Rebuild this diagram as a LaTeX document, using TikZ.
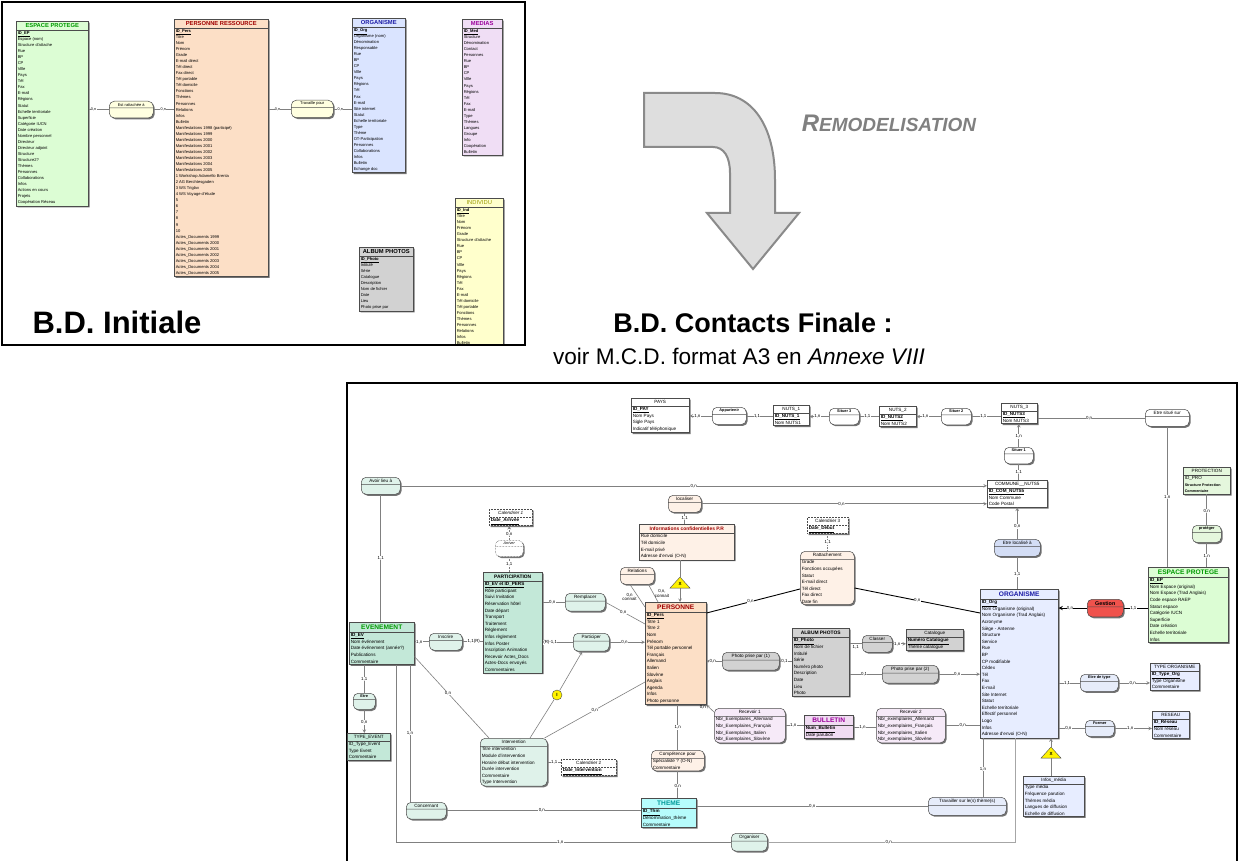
\documentclass[tikz,border=0pt]{standalone}
\usepackage{fontspec}
\setmainfont{Liberation Sans}
\usepackage{xcolor}
\usepackage{tikz}
\usetikzlibrary{shapes.multipart,shapes.geometric,shadows}
\definecolor{mcdMint}{HTML}{C3E8D8}
\definecolor{mcdMintLight}{HTML}{DFF2EA}
\definecolor{mcdPeach}{HTML}{FCDFC6}
\definecolor{mcdPeachLight}{HTML}{FEF1E7}
\definecolor{mcdBlue}{HTML}{E7EDFF}
\definecolor{mcdBlueRel}{HTML}{D3DDF5}
\definecolor{mcdBlueLight}{HTML}{E6ECFA}
\definecolor{mcdGray}{HTML}{D2D2D2}
\definecolor{mcdLilac}{HTML}{F0DCF2}
\definecolor{mcdLilacLight}{HTML}{F6EAF8}
\definecolor{mcdCyan}{HTML}{B6FCFC}
\definecolor{mcdLeaf}{HTML}{DCFDD4}
\definecolor{mcdLeafLight}{HTML}{E5F7DD}
\definecolor{mcdRed}{HTML}{F0524C}
\definecolor{mcdLemon}{HTML}{FFFFCC}
\definecolor{mcdOldBlue}{HTML}{DAE4FF}
\definecolor{mcdOldLilac}{HTML}{F0DEF5}
\definecolor{hdGreen}{HTML}{009A00}
\definecolor{hdRed}{HTML}{A00000}
\definecolor{hdBlue}{HTML}{1C1CA6}
\definecolor{hdPurple}{HTML}{9A009A}
\definecolor{hdOlive}{HTML}{999900}
\definecolor{hdTeal}{HTML}{009999}
\definecolor{arrowFill}{HTML}{DEDEDE}
\definecolor{arrowEdge}{HTML}{8A8A8A}
\definecolor{remodGray}{HTML}{808080}
\newcommand{\idkey}[1]{\underline{\textbf{#1}}}
\newcommand{\hdbig}{\bfseries\fontsize{6.6}{7.6}\selectfont\rule[-2pt]{0pt}{7.5pt}}
\newcommand{\hdmid}{\bfseries\fontsize{4.9}{6}\selectfont\rule[-1.8pt]{0pt}{6.5pt}}
\newcommand{\hdsmall}{\fontsize{4.6}{5.6}\selectfont\rule[-1.5pt]{0pt}{5.5pt}}
\newcommand{\hdold}{\bfseries\fontsize{5.8}{7}\selectfont\rule[-1.8pt]{0pt}{6.6pt}}
\tikzset{
  ent/.style={rectangle split, rectangle split parts=2, anchor=north west,
    draw=black!70, line width=0.5pt, align=left,
    rectangle split part align={center,left}, inner xsep=1.5pt, inner ysep=1pt,
    font=\fontsize{4.6}{6.6}\selectfont,
    drop shadow={shadow xshift=1.4pt, shadow yshift=-1.4pt, fill=black!55, opacity=1}},
  ent0/.style={ent, font=\fontsize{4.1}{6.05}\selectfont},
  rel/.style={ent, rounded corners=5pt, align=center,
    rectangle split part align={center,center},
    rectangle split empty part height=3pt, rectangle split empty part depth=1pt,
    inner ysep=1.6pt},
  relb/.style={rel, font=\bfseries\fontsize{3.9}{5}\selectfont},
  relatt/.style={ent, rounded corners=5pt},
  cal/.style={ent, densely dotted, fill=white},
  card/.style={fill=white, inner sep=0.3pt, align=center, font=\fontsize{4.4}{4.8}\selectfont},
  card0/.style={card, font=\fontsize{3.8}{4.5}\selectfont},
  lnk/.style={draw=black!50, line width=0.6pt},
  arr/.style={lnk, -stealth},
  heavy/.style={draw=black, line width=0.9pt},
  xtri/.style={isosceles triangle, shape border rotate=90, isosceles triangle stretches,
    minimum width=20pt, minimum height=11pt, inner sep=0pt, fill=yellow, draw=black!70,
    line width=0.4pt, font=\bfseries\fontsize{4.5}{5}\selectfont},
  icirc/.style={circle, minimum size=10pt, inner sep=0pt, fill=yellow, draw=black!70,
    line width=0.4pt, font=\bfseries\fontsize{4.5}{5}\selectfont},
  bigtitle/.style={font=\bfseries\fontsize{31}{36}\selectfont},
}
\begin{document}
\begin{tikzpicture}[x=1pt,y=-1pt]
  \useasboundingbox (0,0) rectangle (1242,861);
  \fill[white] (0,0) rectangle (1242,861);

  \begin{scope}
    \clip (3,3) rectangle (524,344);
    \node[ent0, fill=mcdLeaf, minimum width=72pt] (esp0) at (16,21)
      {{\hdold\color{hdGreen}ESPACE PROTEGE}\nodepart{two}\idkey{ID\_EP}\\Espace (nom)\\Structure d'attache\\Rue\\BP\\CP\\Ville\\Pays\\Tél\\Fax\\E-mail\\Régions\\Statut\\Echelle territoriale\\Superficie\\Catégorie IUCN\\Date création\\Nombre personnel\\Directeur\\Directeur adjoint\\Structure\\Structure2?\\Thèmes\\Personnes\\Collaborations\\Infos\\Actions en cours\\Projets\\Coopération Réseau};
    \node[ent0, fill=mcdPeach, minimum width=94pt] (persres) at (174,19)
      {{\hdold\color{hdRed}PERSONNE RESSOURCE}\nodepart{two}\idkey{ID\_Pers}\\Titre\\Nom\\Prénom\\Grade\\E-mail direct\\Tél direct\\Fax direct\\Tél portable\\Tél domicile\\Fonctions\\Thèmes\\Personnes\\Relations\\Infos\\Bulletin\\Manifestations 1998 (participé)\\Manifestations 1999\\Manifestations 2000\\Manifestations 2001\\Manifestations 2002\\Manifestations 2003\\Manifestations 2004\\Manifestations 2005\\1 Workshop Adamello Brenta\\2 AG Berchtesgaden\\3 WS Triglav\\4 WS Voyage d'étude\\5\\6\\7\\8\\9\\10\\Actes\_Documents 1999\\Actes\_Documents 2000\\Actes\_Documents 2001\\Actes\_Documents 2002\\Actes\_Documents 2003\\Actes\_Documents 2004\\Actes\_Documents 2005};
    \node[ent0, fill=mcdOldBlue, minimum width=53pt] (org0) at (352,18)
      {{\hdold\color{hdBlue}ORGANISME}\nodepart{two}\idkey{ID\_Org}\\Organisme (nom)\\Dénomination\\Responsable\\Rue\\BP\\CP\\Ville\\Pays\\Régions\\Tél\\Fax\\E-mail\\Site internet\\Statut\\Echelle territoriale\\Type\\Thème\\OT-Participation\\Personnes\\Collaborations\\Infos\\Bulletin\\Echange doc};
    \node[ent0, fill=mcdOldLilac, minimum width=40pt] (medias) at (462,19)
      {{\hdold\color{hdPurple}MEDIAS}\nodepart{two}\idkey{ID\_Med}\\Structure\\Dénomination\\Contact\\Personnes\\Rue\\BP\\CP\\Ville\\Pays\\Régions\\Tél\\Fax\\E-mail\\Type\\Thèmes\\Langues\\Groupe\\Info\\Coopération\\Bulletin};
    \node[ent0, fill=mcdLemon, minimum width=48pt] (individu) at (455,198)
      {{\fontsize{5.8}{7}\selectfont\rule[-1.8pt]{0pt}{6.6pt}\color{hdOlive}INDIVIDU}\nodepart{two}\idkey{ID\_Ind}\\Titre\\Nom\\Prénom\\Grade\\Structure d'attache\\Rue\\BP\\CP\\Ville\\Pays\\Régions\\Tél\\Fax\\E-mail\\Tél domicile\\Tél portable\\Fonctions\\Thèmes\\Personnes\\Relations\\Infos\\Bulletin};
    \node[ent0, fill=mcdGray, minimum width=54pt] (album0) at (359,247)
      {{\hdold ALBUM PHOTOS}\nodepart{two}\idkey{ID\_Photo}\\Intitulé\\Série\\Catalogue\\Description\\Nom de fichier\\Date\\Lieu\\Photo prise par};
    \node[rel, fill=mcdLemon!60, minimum width=44pt, font=\fontsize{4}{5}\selectfont] (estratt) at (109,101) {Est rattachée à\nodepart{two}};
    \node[rel, fill=mcdLemon!60, minimum width=42pt, font=\fontsize{4}{5}\selectfont] (travaille) at (291,100) {Travaille pour\nodepart{two}};
  \end{scope}
  \draw[lnk] (estratt.west -| esp0.east) -- node[card0, pos=0.25] {0,n} (estratt.west);
  \draw[lnk] (estratt.east) -- node[card0, pos=0.48] {0,n} (estratt.east -| persres.west);
  \draw[lnk] (travaille.west -| persres.east) -- node[card0, pos=0.4] {0,n} (travaille.west);
  \draw[lnk] (travaille.east) -- node[card0, pos=0.37] {0,n} (travaille.east -| org0.west);
  \draw[line width=1.8pt] (2,2) rectangle (525,345);
  \node[bigtitle] (initiale) at (117,322) {B.D. Initiale};

  \draw[draw=arrowEdge, fill=arrowFill, line width=2pt]
    (644,93) -- (715,93) .. controls (752,93) and (775,125) .. (775,180) -- (775,213)
    -- (799,213) -- (753,269) -- (707,213) -- (730,213) -- (730,173)
    .. controls (730,157) and (724,147) .. (713,147) -- (644,147) -- cycle;
  \node[text=remodGray, font=\bfseries\itshape] (remod) at (889,123)
    {{\fontsize{24}{28}\selectfont R}{\fontsize{19}{28}\selectfont EMODELISATION}};
  \node[bigtitle, font=\bfseries\fontsize{27}{32}\selectfont] (finale) at (753,323) {B.D. Contacts Finale :};
  \node[font=\fontsize{22.6}{26}\selectfont] (voir) at (739,356) {voir M.C.D. format A3 en \textit{Annexe VIII}};

  \draw[line width=1.2pt] (347,383) rectangle (1237,864);

  \node[ent, fill=white, minimum width=58pt] (pays) at (631,398)
    {{\hdsmall PAYS}\nodepart{two}\idkey{ID\_PAY}\\Nom Pays\\Sigle Pays\\Indicatif téléphonique};
  \node[ent, fill=white, minimum width=36pt] (nuts1) at (773,405)
    {{\hdsmall NUTS\_1}\nodepart{two}\idkey{ID\_NUTS\_1}\\Nom NUTS1};
  \node[ent, fill=white, minimum width=37pt] (nuts2) at (879,406)
    {{\hdsmall NUTS\_2}\nodepart{two}\idkey{ID\_NUTS2}\\Nom NUTS2};
  \node[ent, fill=white, minimum width=36pt] (nuts3) at (1001,403)
    {{\hdsmall NUTS\_3}\nodepart{two}\idkey{ID\_NUTS3}\\Nom NUTS3};
  \node[ent, fill=white, minimum width=60pt] (commune) at (987,480)
    {{\hdsmall COMMUNE\_\_NUTS5}\nodepart{two}\idkey{ID\_COM\_NUTS5}\\Nom Commune\\Code Postal};
  \node[ent, fill=mcdLeafLight, minimum width=47pt] (protection) at (1183,467)
    {{\hdsmall PROTECTION}\nodepart{two}ID\_PRO\\{\bfseries\fontsize{3.7}{6.6}\selectfont Structure Protection}\\{\bfseries\fontsize{3.7}{6.6}\selectfont Commentaire}};
  \node[ent, fill=mcdLeaf, minimum width=80pt] (espfin) at (1148,567)
    {{\hdbig\color{hdGreen}ESPACE PROTEGE}\nodepart{two}\idkey{ID\_EP}\\Nom Espace (original)\\Nom Espace (Trad Anglais)\\Code espace RAEP\\Statut espace\\Catégorie IUCN\\Superficie\\Date création\\Echelle territoriale\\Infos};
  \node[ent, fill=mcdBlue, minimum width=78pt] (org) at (980,589)
    {{\hdbig\color{hdBlue}ORGANISME}\nodepart{two}\idkey{ID\_Org}\\Nom Organisme (original)\\Nom Organisme (Trad Anglais)\\Acronyme\\Siège - Antenne\\Structure\\Service\\Rue\\BP\\CP modifiable\\Cédex\\Tél\\Fax\\E-mail\\Site Internet\\Statut\\Echelle territoriale\\Effectif personnel\\Logo\\Infos\\Adresse d'envoi (O-N)};
  \node[ent, fill=mcdBlue, minimum width=49pt] (typeorg) at (1150,663)
    {{\hdsmall TYPE ORGANISME}\nodepart{two}\idkey{ID\_Type\_Org}\\Type Organisme\\Commentaire};
  \node[ent, fill=mcdBlue, minimum width=37pt] (reseau) at (1152,711)
    {{\hdsmall RESEAU}\nodepart{two}\idkey{ID\_Réseau}\\Nom réseau\\Commentaire};
  \node[ent, fill=mcdBlue, minimum width=61pt] (infmedia) at (1023,776)
    {{\hdsmall Infos\_média}\nodepart{two}Type média\\Fréquence parution\\Thèmes média\\Langues de diffusion\\Echelle de diffusion};
  \node[ent, fill=mcdGray, minimum width=57pt] (album) at (792,628)
    {{\hdmid ALBUM PHOTOS}\nodepart{two}\idkey{ID\_Photo}\\Nom de fichier\\Intitulé\\Série\\Numéro photo\\Description\\Date\\Lieu\\Photo};
  \node[ent, fill=mcdGray, minimum width=57pt] (catalogue) at (906,629)
    {{\hdsmall Catalogue}\nodepart{two}\idkey{Numéro Catalogue}\\Thème catalogue};
  \node[ent, fill=mcdLilac, minimum width=49pt] (bulletin) at (804,715)
    {{\hdbig\color{hdPurple}BULLETIN}\nodepart{two}\idkey{Num\_Bulletin}\\Date parution};
  \node[ent, fill=mcdCyan, minimum width=55pt] (theme) at (641,798)
    {{\hdbig\color{hdTeal}THEME}\nodepart{two}\idkey{ID\_Thm}\\Dénomination\_thème\\Commentaire};
  \node[ent, fill=mcdPeach, minimum width=61pt] (pers) at (645,602)
    {{\hdbig\color{hdRed}PERSONNE}\nodepart{two}\idkey{ID\_Pers}\\Titre 1\\Titre 2\\Nom\\Prénom\\Tél portable personnel\\Français\\Allemand\\Italien\\Slovène\\Anglais\\Agenda\\Infos\\Photo personne};
  \node[ent, fill=mcdPeachLight, minimum width=95pt] (infconf) at (639,524)
    {{\hdmid\color{hdRed}Informations confidentielles P.R}\nodepart{two}Rue domicile\\Tél domicile\\E-mail privé\\Adresse d'envoi (O-N)};
  \node[ent, fill=mcdMint, minimum width=59pt] (partic) at (483,572)
    {{\hdmid PARTICIPATION}\nodepart{two}\idkey{ID\_EV et ID\_PERS}\\Rôle participant\\Suivi Invitation\\Réservation hôtel\\Date départ\\Transport\\Traitement\\Règlement\\Infos règlement\\Infos Poster\\Inscription Animation\\Recevoir Actes\_Docs\\Actes-Docs envoyés\\Commentaires};
  \node[ent, fill=mcdMint, minimum width=65pt] (even) at (349,622)
    {{\hdbig\color{hdGreen}EVENEMENT}\nodepart{two}\idkey{ID\_EV}\\Nom événement\\Date événement (année?)\\Publications\\Commentaire};
  \node[ent, fill=mcdMint, minimum width=43pt] (typeev) at (347,733)
    {{\hdsmall TYPE\_EVENT}\nodepart{two}ID\_Type\_Event\\Type Event\\Commentaire};
  \node[cal, minimum width=43pt] (cal1) at (489,509)
    {{\hdsmall\itshape Calendrier 1}\nodepart{two}\idkey{Date\_Arrivée}};
  \node[cal, minimum width=55pt] (cal2) at (561,759)
    {{\hdsmall Calendrier 2}\nodepart{two}\idkey{Date\_Intervention}};
  \node[cal, minimum width=41pt] (cal3) at (807,517)
    {{\hdsmall Calendrier 3}\nodepart{two}\idkey{Date\_Début}};

  \node[relb, fill=white, minimum width=34pt] (appartenir) at (712,407) {Appartenir\nodepart{two}};
  \node[relb, fill=white, minimum width=30pt] (situer3) at (829,408) {Situer 3\nodepart{two}};
  \node[relb, fill=white, minimum width=30pt] (situer2) at (941,408) {Situer 2\nodepart{two}};
  \node[relb, fill=white, minimum width=29pt] (situer1) at (1004,447) {Situer 1\nodepart{two}};
  \node[rel, fill=white, minimum width=44pt] (etresitue) at (1145,409) {Etre situé sur\nodepart{two}};
  \node[rel, fill=mcdBlueRel, minimum width=46pt] (localise) at (994,539) {Etre localisé à\nodepart{two}};
  \node[relb, fill=mcdLeafLight, minimum width=29pt] (proteger) at (1192,525) {protéger\nodepart{two}};
  \node[rel, fill=mcdRed, minimum width=36pt, font=\bfseries\fontsize{5.4}{6}\selectfont] (gestion) at (1087,599) {Gestion\nodepart{two}};
  \node[relb, fill=mcdBlueLight, minimum width=38pt] (etretype) at (1080,674) {Etre de type\nodepart{two}};
  \node[relb, fill=mcdBlueLight, minimum width=29pt] (former) at (1085,720) {Former\nodepart{two}};
  \node[rel, fill=mcdBlueLight, minimum width=78pt] (travailler) at (928,797) {Travailler sur le(s) thème(s)\nodepart{two}};
  \node[rel, fill=mcdMintLight, minimum width=36pt] (organiser) at (731,833) {Organiser\nodepart{two}};
  \node[rel, fill=mcdMintLight, minimum width=40pt] (concernant) at (406,802) {Concernant\nodepart{two}};
  \node[relb, fill=mcdMintLight, minimum width=22pt] (etre) at (353,693) {Etre\nodepart{two}};
  \node[rel, fill=mcdMintLight, minimum width=33pt] (inscrire) at (429,633) {Inscrire\nodepart{two}};
  \node[rel, fill=mcdMintLight, minimum width=36pt] (participer) at (573,633) {Participer\nodepart{two}};
  \node[rel, fill=mcdMintLight, minimum width=40pt] (remplacer) at (565,593) {Remplacer\nodepart{two}};
  \node[rel, fill=mcdMintLight, minimum width=39pt] (avoirlieu) at (361,477) {Avoir lieu à\nodepart{two}};
  \node[rel, fill=white, densely dotted, minimum width=28pt, font=\itshape\fontsize{3.8}{5}\selectfont] (arriver) at (495,540) {Arriver\nodepart{two}};
  \node[rel, fill=mcdPeachLight, minimum width=33pt] (localiser) at (668,495) {localiser\nodepart{two}};
  \node[rel, fill=mcdPeachLight, minimum width=34pt] (relations) at (620,567) {Relations\nodepart{two}};
  \node[rel, fill=mcdGray, minimum width=57pt] (photo1) at (722,652) {Photo prise par (1)\nodepart{two}};
  \node[rel, fill=mcdGray, minimum width=56pt] (photo2) at (882,665) {Photo prise par (2)\nodepart{two}};
  \node[rel, fill=mcdGray, minimum width=30pt] (classer) at (862,635) {Classer\nodepart{two}};

  \node[relatt, fill=mcdPeachLight, minimum width=54pt] (rattach) at (800,551)
    {{\hdsmall Rattachement}\nodepart{two}Grade\\Fonctions occupées\\Statut\\E-mail direct\\Tél direct\\Fax direct\\Date fin};
  \node[relatt, fill=mcdLilacLight, minimum width=71pt] (recev1) at (714,708)
    {{\hdsmall Recevoir 1}\nodepart{two}Nbr\_Exemplaires\_Allemand\\Nbr\_Exemplaires\_Français\\Nbr\_Exemplaires\_Italien\\Nbr\_Exemplaires\_Slovène};
  \node[relatt, fill=mcdLilacLight, minimum width=69pt] (recev2) at (876,708)
    {{\hdsmall Recevoir 2}\nodepart{two}Nbr\_exemplaires\_Allemand\\Nbr\_exemplaires\_Français\\Nbr\_exemplaires\_Italien\\Nbr\_exemplaires\_Slovène};
  \node[relatt, fill=mcdPeachLight, minimum width=53pt] (competence) at (651,750)
    {{\hdsmall Compétence pour}\nodepart{two}Spécialiste ? (O-N)\\Commentaire};
  \node[relatt, fill=mcdMintLight, minimum width=67pt] (interv) at (480,738)
    {{\hdsmall Intervention}\nodepart{two}Titre intervention\\Module d'intervention\\Horaire début intervention\\Durée intervention\\Commentaire\\Type Intervention};

  \node[xtri] (tri1) at (680,584) {X};
  \node[xtri] (tri2) at (1051,754) {X};
  \node[icirc] (circI) at (557,695) {I};

  \coordinate (evConc) at ([xshift=61pt]even.south west);
  \coordinate (evOrg) at ([xshift=47pt]even.south west);
  \coordinate (orgTrav) at ([xshift=3pt]org.south west);
  \coordinate (orgOrg) at ([xshift=35pt]org.south west);

  \draw[arr] (appartenir.west) -- node[card, pos=0.65] {1,n} (appartenir.west -| pays.east);
  \draw[lnk] (appartenir.east) -- node[card, pos=0.4] {1,1} (appartenir.east -| nuts1.west);
  \draw[arr] (situer3.west) -- node[card, pos=0.6] {1,n} (situer3.west -| nuts1.east);
  \draw[lnk] (situer3.east) -- node[card, pos=0.4] {1,1} (situer3.east -| nuts2.west);
  \draw[arr] (situer2.west) -- node[card, pos=0.64] {1,n} (situer2.west -| nuts2.east);
  \draw[lnk] (situer2.east) -- node[card, pos=0.4] {1,1} (situer2.east -| nuts3.west);
  \draw[lnk] (etresitue.west -| nuts3.east) -- node[card, pos=0.48] {0,n} (etresitue.west);
  \draw[lnk] (etresitue.south) -- node[card, pos=0.5] {1,n} (etresitue.south |- espfin.north);
  \draw[arr] (situer1.north) -- node[card, pos=0.45] {1,n} (situer1.north |- nuts3.south);
  \draw[lnk] (situer1.south) -- node[card, pos=0.5] {1,1} (situer1.south |- commune.north);
  \draw[arr] (avoirlieu.east) -- node[card, pos=0.5] {0,n} (avoirlieu.east -| commune.west);
  \draw[lnk] (avoirlieu.south) -- node[card, pos=0.5] {1,1} (avoirlieu.south |- even.north);
  \draw[arr] (localiser.east) -- node[card, pos=0.49] {0,n} (localiser.east -| commune.west);
  \draw[lnk] (localiser.south) -- node[card, pos=0.5] {1,1} (localiser.south |- infconf.north);
  \draw[lnk] (tri1.apex |- infconf.south) -- (tri1.apex);
  \draw[arr] (tri1.south) -- (tri1.south |- pers.north);
  \draw[lnk] ([xshift=10pt]relations.south west) -- node[card, pos=0.55, left=1pt, fill=none] {0,n\\connait} ([yshift=-5pt]pers.north west);
  \draw[lnk] ([xshift=-6pt]relations.south east) -- node[card, pos=0.5, right=1pt, fill=none] {0,n,\\connait} ([xshift=13pt]pers.north west);
  \draw[lnk] (remplacer.west -| partic.east) -- node[card, pos=0.43] {0,n} (remplacer.west);
  \draw[lnk] (remplacer.east) -- node[card, pos=0.45] {0,n} ([yshift=-22pt]pers.north west);
  \draw[lnk] (participer.west) -- node[card, pos=0.75] {(R)-1,1} (participer.west -| partic.east);
  \draw[arr] (participer.east) -- node[card, pos=0.42] {0,n} (participer.east -| pers.west);
  \draw[lnk] (inscrire.west) -- node[card, pos=0.67] {1,n} (inscrire.west -| even.east);
  \draw[lnk] (inscrire.east) -- node[card, pos=0.55] {1,1(R)} (inscrire.east -| partic.west);
  \draw[lnk, densely dotted] (arriver.south) -- node[card, pos=0.5] {1,1} (arriver.south |- partic.north);
  \draw[arr, densely dotted] (arriver.north) -- node[card, pos=0.4] {0,n} (arriver.north |- cal1.south);
  \draw[lnk] (etre.north |- even.south) -- node[card, pos=0.5] {1,1} (etre.north);
  \draw[arr] (etre.south) -- node[card, pos=0.55] {0,n} (etre.south |- typeev.north);
  \draw[lnk] (evConc) -- node[card, pos=0.5] {1,n} (evConc |- concernant.north);
  \draw[lnk] (concernant.east) -- node[card, pos=0.49] {0,n} (concernant.east -| theme.west);
  \draw[lnk] (evOrg) |- node[card, pos=0.745] {1,n} (organiser.west);
  \draw[lnk, draw=black!35] (organiser.east) -| node[card, pos=0.245] {0,n} (orgOrg);
  \draw[lnk] ([yshift=8pt]even.south east) -- node[card, pos=0.45] {0,n} ([xshift=9pt]interv.north west);
  \draw[lnk] ([xshift=50pt]interv.north west) -- (circI);
  \draw[arr] (circI) -- ([xshift=-9pt]participer.south);
  \draw[lnk] ([xshift=-3pt]interv.north east) -- node[card, pos=0.5] {0,n} ([yshift=-80pt]pers.north west);
  \draw[lnk] (interv.east) -- node[card, pos=0.5] {1,1} (interv.east -| cal2.west);
  \draw[lnk, densely dotted] (cal3.south) -- node[card, pos=0.5] {1,1} (cal3.south |- rattach.north);
  \draw[heavy] ([yshift=-11pt]pers.north east) -- node[card, pos=0.47] {0,n} ([yshift=-11pt]rattach.west);
  \draw[heavy] ([yshift=-10pt]rattach.east) -- node[card, pos=0.5] {0,n} ([yshift=-24pt]org.north west);
  \draw[arr] (photo1.west) -- node[card, pos=0.6] {0,n} (photo1.west -| pers.east);
  \draw[lnk] (photo1.east) -- node[card, pos=0.4] {0,1} (photo1.east -| album.west);
  \draw[lnk] (classer.west) -- node[card, pos=0.5, below=1pt] {1,1} (classer.west -| album.east);
  \draw[arr] (classer.east) -- node[card, pos=0.35] {1,n} (classer.east -| catalogue.west);
  \draw[lnk] (photo2.west) -- node[card, pos=0.55] {0,1} (photo2.west -| album.east);
  \draw[arr] (photo2.east) -- node[card, pos=0.45] {0,n} (photo2.east -| org.west);
  \draw[arr] ([yshift=-4pt]recev1.north west) -- (pers.south east) node[card, pos=1, anchor=north east, fill=none] {0,n};
  \draw[lnk] (recev1.east) -- node[card, pos=0.42] {1,n} (recev1.east -| bulletin.west);
  \draw[lnk] (bulletin.east) -- node[card, pos=0.4] {1,n} (bulletin.east -| recev2.west);
  \draw[lnk] (recev2.east) -- node[card, pos=0.5] {0,n} (recev2.east -| org.west);
  \draw[lnk] (competence.north |- pers.south) -- node[card, pos=0.5] {1,n} (competence.north);
  \draw[lnk] (competence.south) -- node[card, pos=0.55] {0,n} (competence.south |- theme.north);
  \draw[lnk] (travailler.west) -- node[card, pos=0.5] {0,n} (travailler.west -| theme.east);
  \draw[lnk] (orgTrav) -- node[card, pos=0.53] {1,n} (orgTrav |- travailler.north);
  \draw[arr] (tri2.apex) -- (tri2.apex |- org.south);
  \draw[lnk] (tri2.south) -- (tri2.south |- infmedia.north);
  \draw[lnk] (etretype.west -| org.east) -- node[card, pos=0.4] {1,1} (etretype.west);
  \draw[arr] (etretype.east) -- node[card, pos=0.45] {0,n} (etretype.east -| typeorg.west);
  \draw[lnk] (former.west -| org.east) -- node[card, pos=0.37] {0,n} (former.west);
  \draw[arr] (former.east) -- node[card, pos=0.42] {1,n} (former.east -| reseau.west);
  \draw[heavy, -stealth] (gestion.west) -- node[card, pos=0.6] {0,n} (gestion.west -| org.east);
  \draw[heavy] (gestion.east) -- node[card, pos=0.4] {1,1} (gestion.east -| espfin.west);
  \draw[lnk] (protection.south) -- node[card, pos=0.55] {0,n} (protection.south |- proteger.north);
  \draw[lnk] (proteger.south) -- node[card, pos=0.55] {1,n} (proteger.south |- espfin.north);
  \draw[arr] (localise.north) -- node[card, pos=0.4] {0,n} (localise.north |- commune.south);
  \draw[lnk] (localise.south) -- node[card, pos=0.55] {1,1} (localise.south |- org.north);
\end{tikzpicture}
\end{document}
